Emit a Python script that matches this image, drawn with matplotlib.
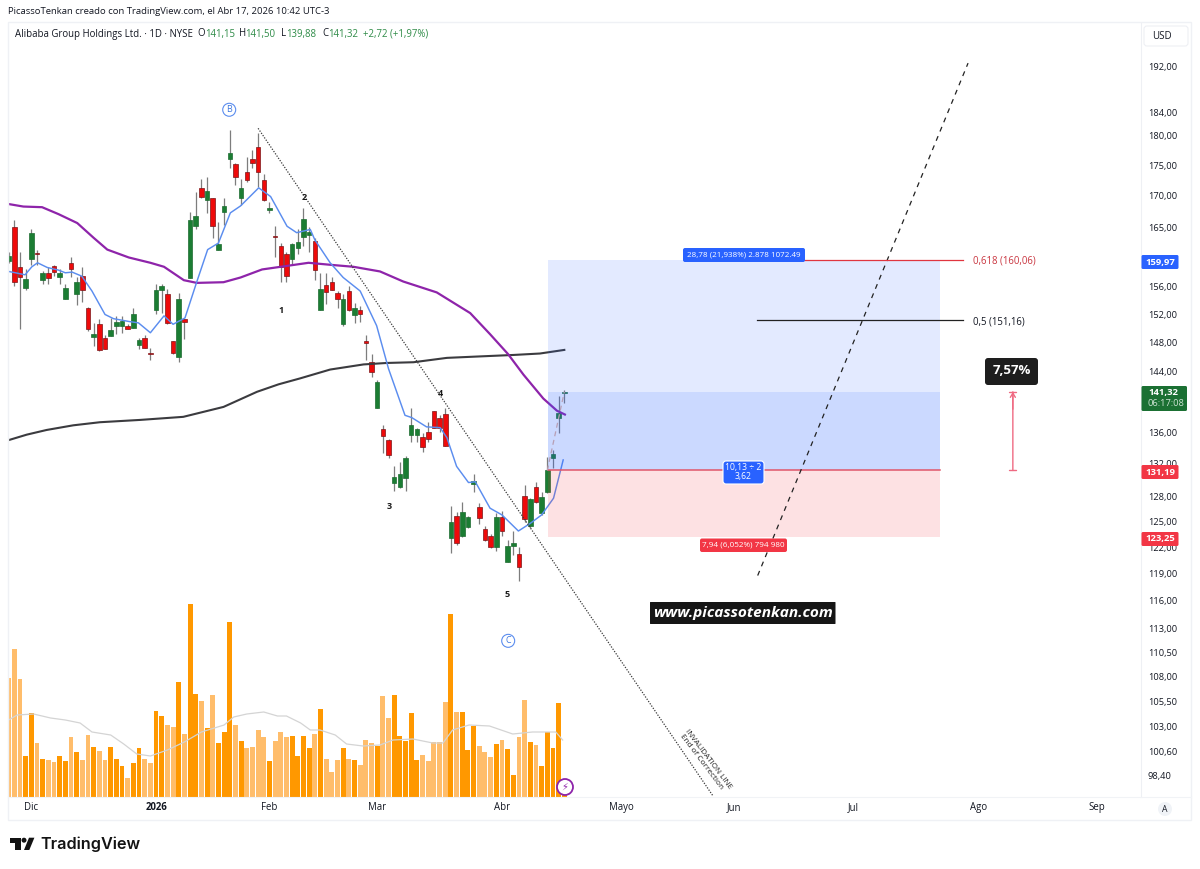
import matplotlib

matplotlib.use("Agg")
import matplotlib.pyplot as plt
import numpy as np
from matplotlib.patches import Circle, FancyBboxPatch, Polygon, Rectangle

# daily bars
opens = [159.8, 165.1, 159.0, 155.8, 160.2, 161.1, 157.1, 158.1, 159.1, 157.4,
         154.3, 159.6, 155.0, 157.6, 153.0, 148.8, 150.6, 148.6, 148.9, 150.3,
         150.4, 150.4, 150.1, 147.7, 148.7, 146.6, 152.6, 155.6, 155.0, 148.2,
         146.0, 151.3, 157.3, 165.3, 171.3, 169.4, 169.6, 161.6, 167.4, 176.1,
         175.2, 169.6, 173.8, 176.0, 178.1, 172.5, 167.8, 163.7, 162.2, 161.0,
         160.2, 161.8, 163.5, 163.9, 162.9, 152.7, 156.3, 156.8, 155.1, 150.7,
         155.4, 151.9, 152.7, 148.3, 145.4, 139.2, 136.4, 135.0, 129.7, 129.2,
         130.2, 135.6, 135.6, 135.4, 136.1, 138.8, 137.9, 138.4, 123.1, 125.7,
         123.3, 124.4, 129.5, 126.8, 124.1, 123.3, 122.0, 125.6, 120.3, 122.2,
         121.2, 128.1, 124.5, 129.2, 126.0, 128.5, 132.7, 137.8, 141.15]
highs = [161.3, 166.2, 161.2, 158.6, 164.7, 161.6, 158.3, 158.9, 159.3, 158.6,
         156.5, 160.5, 157.4, 158.9, 153.1, 150.8, 151.3, 149.1, 151.5, 151.8,
         151.8, 150.6, 152.9, 148.6, 149.1, 147.3, 156.5, 156.4, 155.7, 148.2,
         155.1, 151.4, 167.5, 170.6, 172.7, 173.1, 169.7, 165.9, 169.7, 180.9,
         175.3, 172.8, 176.4, 177.6, 180.4, 173.6, 169.0, 165.2, 162.6, 161.3,
         162.6, 164.8, 168.1, 165.1, 163.4, 158.0, 158.0, 157.4, 155.4, 154.9,
         156.2, 153.6, 153.2, 149.1, 146.4, 142.9, 137.0, 135.2, 131.7, 132.3,
         133.0, 139.2, 136.6, 135.9, 137.3, 138.8, 138.2, 139.2, 126.9, 126.1,
         127.3, 125.7, 130.7, 127.2, 124.5, 123.5, 126.0, 126.3, 122.9, 123.9,
         122.0, 129.4, 127.8, 129.8, 128.6, 132.9, 133.7, 140.8, 141.5]
lows = [159.6, 156.1, 149.9, 155.6, 159.3, 159.3, 156.5, 156.4, 157.6, 156.4,
        154.2, 157.4, 153.3, 153.8, 149.7, 147.6, 146.8, 147.1, 148.9, 149.2,
        149.3, 149.9, 150.1, 147.1, 147.2, 145.6, 152.0, 152.2, 150.7, 146.5,
        145.3, 148.5, 157.3, 164.8, 169.7, 167.3, 163.4, 161.6, 165.4, 174.6,
        171.8, 168.6, 172.2, 174.5, 171.5, 169.2, 167.3, 160.5, 156.7, 156.7,
        159.3, 161.0, 162.2, 161.3, 157.0, 152.7, 153.5, 155.5, 153.0, 150.4,
        152.5, 150.8, 150.9, 145.6, 143.3, 139.1, 133.4, 132.8, 128.7, 129.0,
        128.7, 134.7, 134.8, 133.5, 134.8, 136.6, 136.0, 134.3, 121.3, 122.3,
        123.2, 124.3, 128.5, 124.7, 122.7, 121.9, 121.6, 123.3, 120.3, 121.1,
        118.2, 125.0, 124.2, 127.2, 125.8, 128.4, 131.5, 135.9, 139.88]
closes = [160.6, 156.8, 157.4, 157.2, 164.1, 161.0, 158.0, 157.3, 158.2, 158.0,
          155.8, 158.6, 156.8, 155.5, 149.9, 149.2, 147.0, 147.1, 149.8, 150.9,
          151.1, 150.0, 152.1, 148.4, 147.3, 146.5, 155.6, 156.1, 150.8, 146.6,
          154.3, 150.9, 166.1, 166.8, 169.8, 170.8, 165.2, 162.4, 168.4, 177.0,
          173.1, 171.2, 172.5, 175.4, 173.9, 169.4, 168.1, 163.5, 159.0, 157.6,
          162.4, 162.7, 166.3, 164.3, 158.5, 155.7, 155.2, 155.5, 154.2, 154.3,
          152.6, 153.0, 152.1, 147.9, 144.0, 142.6, 135.5, 133.1, 130.4, 130.8,
          132.7, 136.9, 136.4, 134.1, 135.2, 136.6, 136.5, 134.3, 125.0, 122.5,
          126.1, 125.6, 129.9, 125.4, 122.8, 122.0, 125.5, 123.9, 122.2, 122.5,
          119.8, 125.3, 127.7, 127.3, 128.0, 131.3, 133.3, 138.5, 141.32]

# volume in millions, D = darker bar
volume = [11.9, 14.8, 11.8, 4.1, 8.4, 5.4, 3.8, 3.7, 3.5, 4.1,
          3.6, 6.0, 4.5, 3.7, 6.2, 5.0, 4.6, 3.7, 5.0, 3.8,
          3.1, 1.9, 3.4, 4.9, 3.8, 3.4, 8.6, 8.1, 7.2, 7.0,
          11.5, 6.3, 19.3, 10.3, 9.6, 6.9, 10.2, 5.4, 6.5, 17.5,
          7.2, 5.6, 4.9, 5.0, 6.7, 6.0, 3.6, 5.6, 6.5, 6.0,
          6.1, 4.1, 6.1, 4.9, 6.3, 8.8, 3.8, 2.5, 3.7, 4.9,
          3.8, 3.7, 3.2, 5.7, 5.4, 5.1, 10.1, 7.9, 10.2, 6.1,
          5.6, 8.4, 3.7, 4.2, 3.6, 5.5, 5.5, 9.5, 18.3, 8.5,
          8.5, 4.7, 7.1, 5.1, 4.5, 4.0, 5.3, 5.7, 4.8, 2.2,
          6.0, 9.7, 5.5, 5.2, 3.1, 6.5, 4.9, 9.4, 0.7]
vol_kind = ("LLLDDLDLLD" "DLDLLDLLDD" "DLDDLLDDLL" "DLDDLDLDDD" "LDLLLLDLLL"
            "DDDDLDLLLD" "LDLLLDLLDD" "DDDLLLLLDL" "DDDLLLDLDD" "LLDLDDDDD")
vol_ma_x = [0, 1.5, 4.4, 7.4, 10, 12.6, 14.7, 18, 20.3, 22.6, 25, 28, 31, 34, 38,
            39.7, 42, 45, 47.4, 49, 51.5, 53.2, 54.9, 57.6, 59.6, 62.5, 65.5,
            67.8, 71.3, 74.8, 76.6, 78.3, 81.2, 84.8, 88.9, 92.4, 96.5, 97.7]
vol_ma = [7.7, 8.2, 8.3, 7.9, 7.7, 7.4, 6.5, 6.2, 5.3, 4.3, 4.1, 4.7, 5.5, 6.5, 7.2,
          8.0, 8.3, 8.5, 8.1, 8.1, 7.4, 6.7, 6.7, 6.2, 5.3, 5.1, 5.2,
          5.7, 5.8, 5.4, 5.4, 6.7, 7.2, 7.1, 6.3, 6.5, 6.5, 5.7]

# moving averages
fast_x = [0, 1.2, 2.9, 4.1, 5.1, 6.8, 8.8, 10, 11.2, 12.9, 14.7, 17, 18.5, 21.2, 22.9,
          25, 27.4, 29, 31.1, 33.2, 35.1, 37, 39.1, 40.9, 44.1, 46.2, 49.1, 50.8,
          53.2, 54, 56.7, 59, 62, 64.9, 67, 69.9, 71.1, 73.7, 76.1, 77.3, 79, 81.1,
          82.3, 84.9, 87, 89.9, 92, 94, 96.1, 97.8]
fast_ma = [158.3, 158.1, 157.8, 159.0, 159.6, 158.9, 158.5, 158.1, 158.2, 157.6, 155.4,
           152.0, 151.4, 151.0, 150.8, 149.4, 151.8, 150.6, 151.5, 156.8, 161.6, 162.6,
           167.3, 168.4, 171.3, 169.9, 165.2, 164.2, 164.7, 163.1, 159.6, 157.4, 155.4,
           150.4, 144.4, 138.2, 137.9, 136.7, 136.6, 135.3, 131.7, 129.7, 129.8, 126.6,
           125.8, 123.9, 124.8, 125.8, 127.8, 132.5]
mid_x = [0, 2.6, 5.9, 8.8, 12.1, 15, 17.4, 21.2, 25, 27.4, 30.9, 33.2, 37.9, 40.9, 44.7,
         48, 52.9, 56.7, 60.8, 65.5, 69.6, 75.5, 81.4, 84.9, 88.1, 90.8, 94.3, 96.7, 98.1]
mid_ma = [168.7, 168.3, 168.2, 167.1, 165.7, 163.4, 161.6, 160.4, 159.6, 159.0, 157.0,
          156.6, 156.7, 157.4, 158.6, 159.0, 159.6, 159.3, 159.0, 158.3, 156.8, 155.2,
          152.2, 149.2, 146.4, 143.6, 140.4, 138.8, 138.3]
slow_x = [0, 3.2, 6.7, 11.4, 16.1, 23.2, 30.8, 37.9, 43.8, 47.6, 51.4, 56.7, 62.6, 66.7,
          71.4, 77.3, 83.1, 89, 93.7, 98]
slow_ma = [135.0, 135.7, 136.3, 136.9, 137.3, 137.6, 138.0, 139.3, 141.3, 142.3, 143.1,
           144.3, 145.0, 145.2, 145.3, 145.9, 146.1, 146.3, 146.5, 147.0]

# drawings on the chart
invalid_x = [44, 124.2]
invalid_y = [181.2, 96.5]
target_x = [132.1, 169.2]
target_y = [118.8, 192.7]
fib_x = [132, 168.3]
fib_618 = 160.06
fib_50 = 151.16
zone_x = [95.1, 164.3]
zone_top = 159.97
zone_last = 141.3
zone_entry = 131.19
zone_stop = 123.25
wave_labels = ["1", "2", "3", "4", "5"]
wave_x = [48, 52.1, 67.1, 76.1, 87.9]
wave_y = [152.6, 169.8, 126.8, 141.1, 116.7]

price_ticks = [192, 184, 180, 175, 170, 165, 156, 152, 148, 144, 136, 132, 128, 125,
               122, 119, 116, 113, 110.5, 108, 105.5, 103, 100.6, 98.4]
month_pos = [4, 26, 46, 65, 87, 108, 128, 149, 171, 192]
month_labels = ["Dic", "2026", "Feb", "Mar", "Abr", "Mayo", "Jun", "Jul", "Ago", "Sep"]

FONT = "Open Sans"
TXT = "#131722"
GREEN = "#1b7d33"
RED = "#ee0a0a"
plt.rcParams["font.family"] = [FONT, "DejaVu Sans"]

fig = plt.figure(figsize=(12, 8.69), dpi=100, facecolor="white")
W, H = 1200, 869
L, R, T, B = 8, 1141, 23, 797
rect = [L / W, 1 - B / H, (R - L) / W, (B - T) / H]

bars = np.arange(len(closes))
x_lim = (-0.11, 199.7)

# volume pane, same box as the price pane
vax = fig.add_axes(rect, zorder=1)
vax.set_xlim(x_lim)
vax.set_ylim(0, 77.4)
vax.axis("off")
vcolors = ["#ff9800" if k == "D" else "#ffbd6b" for k in vol_kind]
vax.bar(bars, volume, width=0.86, color=vcolors, linewidth=0)
vax.plot(vol_ma_x, vol_ma, color="#d4d4d4", lw=0.9)

ax = fig.add_axes(rect, zorder=2)
ax.patch.set_alpha(0)
ax.set_yscale("log")
ax.set_xlim(x_lim)
ax.set_ylim(96.39, 200.14)
for s in ["top", "left", "bottom"]:
    ax.spines[s].set_visible(False)
ax.spines["right"].set_color("#eef0f4")

ax.yaxis.tick_right()
ax.set_yticks(price_ticks)
ax.set_yticklabels([f"{p:.2f}".replace(".", ",") for p in price_ticks], fontsize=6.7, color=TXT)
ax.minorticks_off()
ax.tick_params(axis="y", length=0, pad=5)
ax.set_xticks(month_pos)
ax.set_xticklabels(month_labels, fontsize=6.9, color=TXT)
ax.get_xticklabels()[1].set_fontweight("bold")
ax.tick_params(axis="x", length=0, pad=3.5)

# candles
up = np.array(closes) >= np.array(opens)
ax.vlines(bars, lows, highs, color="#7d7d7d", lw=0.9, zorder=3)
bottoms = np.minimum(opens, closes)
heights = np.maximum(np.abs(np.array(closes) - np.array(opens)), 0.12)
ax.bar(bars, heights, bottom=bottoms, width=0.8,
       color=[GREEN if u else RED for u in up],
       edgecolor=["#1d6b30" if u else "#7a1518" for u in up], linewidth=0.5, zorder=4)

ax.plot(slow_x, slow_ma, color="#3b3b3f", lw=1.5, zorder=5)
ax.plot(mid_x, mid_ma, color="#8e24aa", lw=1.6, zorder=5)
ax.plot(fast_x, fast_ma, color="#5b8def", lw=1.05, zorder=5)

# position tool
ax.fill_between(zone_x, zone_last, zone_top, color="#2962ff", alpha=0.13, lw=0, zorder=6)
ax.fill_between(zone_x, zone_entry, zone_last, color="#2962ff", alpha=0.24, lw=0, zorder=6)
ax.fill_between(zone_x, zone_stop, zone_entry, color="#f23645", alpha=0.15, lw=0, zorder=6)
ax.plot(zone_x, [zone_entry, zone_entry], color="#e0566a", lw=1.1, zorder=7)
ax.plot([95, 98], [zone_entry, 141.3], color="#b79fb5", lw=0.9, ls=(0, (4, 3)), zorder=7)

ax.plot(invalid_x, invalid_y, color="#3a3a3a", lw=0.9, ls=(0, (1, 1.2)), zorder=7)
ax.plot(target_x, target_y, color="#222222", lw=0.9, ls=(0, (4, 4)), zorder=7)
ax.plot(fib_x, [fib_618, fib_618], color="#e0353f", lw=0.9, zorder=7)
ax.plot(fib_x, [fib_50, fib_50], color="#222222", lw=0.9, zorder=7)

for lab, xv, yv in zip(wave_labels, wave_x, wave_y):
    ax.text(xv, yv, lab, fontsize=6.5, fontweight="bold", color="#1a1a1a",
            ha="center", va="center", zorder=8)
for lab, xv, yv in [("B", 38.9, 184.4), ("C", 88.1, 111.7)]:
    ax.text(xv, yv, lab, fontsize=6.5, color="#3f78e0", ha="center", va="center", zorder=8,
            bbox=dict(boxstyle="circle,pad=0.22", fc="white", ec="#5b8def", lw=0.8))

ax.annotate("", xy=(177.1, 141.3), xytext=(177.1, zone_entry), zorder=8,
            arrowprops=dict(arrowstyle="|-|,widthA=0.25,widthB=0.25", color="#ef6a82", lw=1,
                            shrinkA=0, shrinkB=0))
ax.annotate("", xy=(177.1, 141.3), xytext=(177.1, 139.0), zorder=8,
            arrowprops=dict(arrowstyle="->,head_width=0.18,head_length=0.3", color="#ef6a82",
                            lw=1, shrinkA=0, shrinkB=0))
ax.text(123.3, 99.9, "INVALIDATION LINE", rotation=-53, rotation_mode="anchor", fontsize=5.8,
        color="#222222", ha="center", va="center", zorder=8)
ax.text(122.1, 99.6, "End of Correction", rotation=-53, rotation_mode="anchor", fontsize=5.9,
        color="#222222", ha="center", va="center", zorder=8)

# page furniture in pixels
ov = fig.add_axes([0, 0, 1, 1], zorder=10)
ov.set_xlim(0, W)
ov.set_ylim(H, 0)
ov.axis("off")
ov.patch.set_alpha(0)


def box(x0, y0, x1, y1, color, r=2.0, ec="none", z=3):
    ov.add_patch(FancyBboxPatch((x0, y0), x1 - x0, y1 - y0,
                                boxstyle=f"round,pad=0,rounding_size={r}",
                                fc=color, ec=ec, lw=0.8, zorder=z))


def label(x, y, s, size=7.0, color=TXT, ha="center", weight="normal", z=4, style="normal"):
    ov.text(x, y, s, fontsize=size, color=color, ha=ha, va="center", fontweight=weight,
            zorder=z, fontstyle=style)


ov.add_patch(Rectangle((L, 22), 1191 - L, 820 - 22, fc="none", ec="#eff1f5", lw=1, zorder=1))
ov.plot([L, 1191], [797, 797], color="#f1f3f6", lw=0.8, zorder=1)

label(8, 12, "PicassoTenkan creado con TradingView.com, el Abr 17, 2026 10:42 UTC-3",
      size=6.8, ha="left")
label(15, 34, "Alibaba Group Holdings Ltd. · 1D · NYSE", size=6.9, ha="left")
HEAD_GREEN = "#2e8b47"
for xs, tag, xv, val in [(197, "O", 205, "141,15"), (239, "H", 245, "141,50"),
                         (281, "L", 286, "139,88"), (322, "C", 328, "141,32")]:
    label(xs, 34, tag, size=6.9, ha="left")
    label(xv, 34, val, size=6.9, ha="left", color=HEAD_GREEN)
label(363, 34, "+2,72 (+1,97%)", size=6.9, ha="left", color=HEAD_GREEN)

box(1144, 26, 1188, 46, "white", r=3, ec="#eef0f4")
label(1152, 36.5, "USD", size=7, ha="left")

# price tags
box(1141.5, 255, 1178.5, 269, "#2962ff", r=1.5)
label(1160, 262, "159,97", size=6.8, color="white", weight="bold")
box(1141.5, 386, 1187, 411, "#1b7033", r=1.5)
label(1148, 393, "141,32", size=6.8, color="white", weight="bold", ha="left")
label(1148, 403.5, "06:17:08", size=6.7, color="#cfe3d4", ha="left")
box(1141.5, 465, 1178.5, 479, "#f23645", r=1.5)
label(1160, 472, "131,19", size=6.8, color="white", weight="bold")
box(1141.5, 532, 1178.5, 546, "#f23645", r=1.5)
label(1160, 539, "123,25", size=6.8, color="white", weight="bold")

# labels on the position tool
box(683, 248, 805, 262, "#2962ff", r=2)
label(744, 255, "28,78 (21,938%) 2.878 1072.49", size=5.8, color="white")
box(723, 461, 764, 484, "#2962ff", r=3, ec="white")
label(743.5, 467.5, "10,13 ÷ 2", size=6.2, color="white")
label(743.5, 476.5, "3,62", size=6.2, color="white")
box(700, 538.5, 787, 552, "#f23645", r=2)
label(743.5, 545.5, "7,94 (6,052%) 794 980", size=5.9, color="white")

label(973, 261, "0,618 (160,06)", size=6.9, ha="left", color="#c9353f")
label(973, 322, "0,5 (151,16)", size=6.9, ha="left", color=TXT)
box(985, 358, 1038, 385, "#1e1e1e", r=3)
label(1012, 371, "7,57%", size=9.5, color="white", weight="bold")
box(650, 602, 835.5, 624, "#161616", r=0.5)
label(742.5, 613, "www.picassotenkan.com", size=11.1, color="white", weight="bold", style="italic")

# lightning badge
ov.add_patch(Circle((565, 787), 8, fc="white", ec="#8e24aa", lw=1.3, zorder=3))
ov.text(565, 787, "\u26a1", fontsize=7, color="#8e24aa", ha="center", va="center", zorder=4,
        family="DejaVu Sans")

ov.add_patch(Circle((1165, 809), 7, fc="#f0f3f7", ec="none", zorder=3))
label(1165, 809, "A", size=6.2)

# TradingView logo
LOGO = "#131313"
ov.add_patch(Polygon([(10, 837.7), (20.7, 837.7), (20.7, 850), (15, 850), (15, 842.5), (10, 842.5)],
                     fc=LOGO, ec="none", zorder=3))
ov.add_patch(Circle((24, 840.2), 2.5, fc=LOGO, ec="none", zorder=3))
ov.add_patch(Polygon([(29, 837.7), (34.4, 837.7), (29.3, 850), (24, 850)], fc=LOGO, ec="none", zorder=3))
ov.text(40.5, 844, "TradingView", fontsize=11.7, color=LOGO, ha="left", va="center",
        fontweight="semibold", family="Inter", zorder=3)

fig.savefig("out.png", dpi=100)
